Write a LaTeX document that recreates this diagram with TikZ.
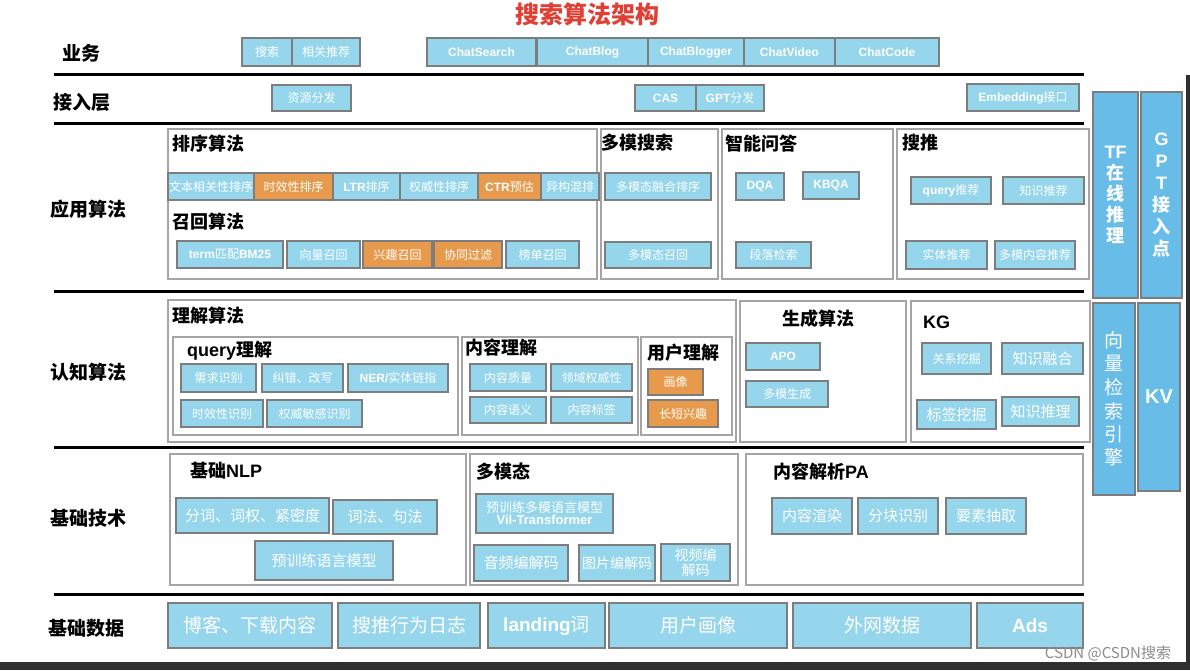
\documentclass[tikz,border=0pt]{standalone}
\usepackage{fontspec}
\setmainfont{Noto Sans CJK SC}
\newfontfamily\latfam{Liberation Sans}
\newcommand{\latb}[1]{{\latfam\bfseries #1}}
\definecolor{boxblue}{RGB}{150,214,236}
\definecolor{boxorange}{RGB}{232,154,76}
\definecolor{bordergray}{RGB}{125,125,125}
\definecolor{framegray}{RGB}{165,165,165}
\definecolor{colblue}{RGB}{104,189,232}
\definecolor{titlered}{RGB}{225,62,52}
\definecolor{stripdark}{RGB}{48,48,48}
\newcommand{\myfs}[1]{\fontsize{#1}{#1}\selectfont}
\newcommand{\bx}[7][]{%
  \pgfmathsetmacro\bxw{#5-#3}\pgfmathsetmacro\bxh{#6-#4}%
  \node[bxs,#1,minimum width=\bxw pt,minimum height=\bxh pt,anchor=north west] (#2) at (#3,#4) {#7};}
\tikzset{
  bxs/.style={draw=bordergray,line width=1.4pt,fill=boxblue,text=white,font=\myfs{12},inner sep=0pt,outer sep=0pt,align=center},
  org/.style={fill=boxorange},
  frm/.style={draw=framegray,line width=1.5pt,fill=white},
  colbx/.style={fill=colblue,font=\bfseries\myfs{18},draw=bordergray},
  big/.style={font=\myfs{15}},
  huge/.style={font=\myfs{19}},
  lbl/.style={font=\bfseries\myfs{19},text=black,anchor=west,inner sep=0pt},
  ttl/.style={font=\bfseries\myfs{18},text=black,anchor=west,inner sep=0pt},
  sep/.style={line width=3pt,black}
}
\begin{document}
\begin{tikzpicture}[x=1pt,y=-1pt]
\useasboundingbox (0,0) rectangle (1190,670);
\fill[white] (0,0) rectangle (1190,670);
% title
\node[font=\bfseries\myfs{24},text=titlered,inner sep=0pt] (title) at (587,14) {搜索算法架构};
% row labels
\node[lbl] (L1) at (62,53) {业务};
\node[lbl] (L2) at (53,102) {接入层};
\node[lbl] (L3) at (50,209) {应用算法};
\node[lbl] (L4) at (50,372) {认知算法};
\node[lbl] (L5) at (50,518) {基础技术};
\node[lbl] (L6) at (48,628) {基础数据};
% separators
\foreach \yy in {74,123,291,447,594} \draw[sep] (54,\yy) -- (1084,\yy);
% row 1
\bx{s1}{242}{38}{292}{66}{搜索}
\bx{s2}{292}{38}{360}{66}{相关推荐}
\bx{s3}{427}{38}{536}{66}{\latb{ChatSearch}}
\bx{s4}{537}{38}{648}{66}{\latb{ChatBlog}}
\bx{s5}{648}{38}{744}{66}{\latb{ChatBlogger}}
\bx{s6}{744}{38}{835}{66}{\latb{ChatVideo}}
\bx{s7}{835}{38}{939}{66}{\latb{ChatCode}}
% row 2
\bx{a1}{272}{85}{351}{111}{资源分发}
\bx{a2}{635}{85}{696}{111}{\latb{CAS}}
\bx{a3}{696}{85}{764}{111}{\latb{GPT}分发}
\bx{a4}{967}{84}{1079}{111}{\latb{Embedding}接口}
% application frames
\bx[frm]{fA}{168}{129}{597}{279}{}
\bx[frm]{fB}{601}{129}{718}{279}{}
\bx[frm]{fC}{722}{129}{893}{279}{}
\bx[frm]{fD}{897}{129}{1089}{279}{}
\node[ttl] (tA) at (172,144) {排序算法};
\node[ttl] (tA2) at (172,222) {召回算法};
\node[ttl] (tB) at (601,143) {多模搜索};
\node[ttl] (tC) at (725,144) {智能问答};
\node[ttl] (tD) at (902,143) {搜推};
\bx{r1}{168}{173}{254}{200}{文本相关性排序}
\bx[org]{r2}{254}{173}{333}{200}{时效性排序}
\bx{r3}{333}{173}{400}{200}{\latb{LTR}排序}
\bx{r4}{400}{173}{478}{200}{权威性排序}
\bx[org]{r5}{478}{173}{541}{200}{\latb{CTR}预估}
\bx{r6}{541}{173}{599}{200}{异构混排}
\bx{c1}{177}{241}{283}{268}{\latb{term}匹配\latb{BM25}}
\bx{c2}{287}{241}{360}{268}{向量召回}
\bx[org]{c3}{363}{241}{432}{268}{兴趣召回}
\bx[org]{c4}{434}{241}{502}{268}{协同过滤}
\bx{c5}{506}{241}{579}{268}{榜单召回}
\bx{m1}{605}{173}{711}{200}{多模态融合排序}
\bx{m2}{605}{242}{711}{268}{多模态召回}
\bx{q1}{736}{173}{784}{200}{\latb{DQA}}
\bx{q2}{803}{172}{859}{199}{\latb{KBQA}}
\bx{q3}{736}{242}{811}{268}{段落检索}
\bx{t1}{911}{177}{991}{204}{\latb{query}推荐}
\bx{t2}{1003}{177}{1084}{204}{知识推荐}
\bx{t3}{906}{241}{987}{269}{实体推荐}
\bx{t4}{995}{241}{1075}{269}{多模内容推荐}
% cognitive frames
\bx[frm]{gA}{168}{300}{736}{442}{}
\bx[frm]{gA1}{173}{337}{458}{435}{}
\bx[frm]{gA2}{462}{337}{638}{435}{}
\bx[frm]{gA3}{641}{337}{732}{435}{}
\bx[frm]{gB}{740}{301}{906}{442}{}
\bx[frm]{gC}{911}{301}{1090}{442}{}
\node[ttl] (tgA) at (172,316) {理解算法};
\node[ttl] (tgA1) at (187,351) {\latb{query}理解};
\node[ttl] (tgA2) at (465,348) {内容理解};
\node[ttl] (tgA3) at (647,353) {用户理解};
\node[ttl,anchor=center] (tgB) at (818,319) {生成算法};
\node[ttl] (tgC) at (923,322) {\latb{KG}};
\bx{u1}{181}{364}{256}{392}{需求识别}
\bx{u2}{262}{364}{343}{392}{纠错、改写}
\bx{u3}{348}{364}{448}{392}{\latb{NER/}实体链指}
\bx{u4}{181}{400}{263}{427}{时效性识别}
\bx{u5}{267}{400}{362}{427}{权威敏感识别}
\bx{v1}{470}{364}{546}{391}{内容质量}
\bx{v2}{551}{364}{632}{391}{领域权威性}
\bx{v3}{470}{397}{546}{423}{内容语义}
\bx{v4}{551}{397}{632}{423}{内容标签}
\bx[org]{w1}{648}{369}{703}{395}{画像}
\bx[org]{w2}{648}{400}{718}{427}{长短兴趣}
\bx{x1}{746}{343}{820}{370}{\latb{APO}}
\bx{x2}{746}{381}{828}{407}{多模生成}
\bx{k1}{922}{343}{991}{374}{关系挖掘}
\bx[big]{k2}{1002}{343}{1083}{374}{知识融合}
\bx[big]{k3}{917}{400}{996}{429}{标签挖掘}
\bx[big]{k4}{1002}{397}{1079}{426}{知识推理}
% foundation tech frames
\bx[frm]{hA}{170}{454}{466}{585}{}
\bx[frm]{hB}{470}{454}{738}{585}{}
\bx[frm]{hC}{746}{454}{1083}{585}{}
\node[ttl] (thA) at (190,471) {基础\latb{NLP}};
\node[ttl] (thB) at (476,472) {多模态};
\node[ttl] (thC) at (773,472) {内容解析\latb{PA}};
\bx[big]{n1}{176}{498}{329}{533}{分词、词权、紧密度}
\bx[big]{n2}{333}{500}{437}{534}{词法、句法}
\bx[big]{n3}{255}{541}{393}{580}{预训练语言模型}
\bx[font=\myfs{13}]{p1}{476}{494}{613}{533}{预训练多模语言模型\\[-1pt]\latb{Vil-Transformer}}
\bx[big]{p2}{474}{545}{568}{581}{音频编解码}
\bx[font=\myfs{14}]{p3}{579}{545}{655}{581}{图片编解码}
\bx[font=\myfs{14}]{p4}{661}{544}{730}{581}{视频编\\[1pt]解码}
\bx[big]{e1}{772}{498}{852}{534}{内容渲染}
\bx[big]{e2}{858}{498}{938}{534}{分块识别}
\bx[big]{e3}{946}{498}{1026}{534}{要素抽取}
% data row
\bx[huge]{d1}{168}{603}{332}{648}{博客、下载内容}
\bx[huge]{d2}{338}{603}{480}{648}{搜推行为日志}
\bx[huge]{d3}{488}{603}{605}{648}{\latb{landing}词}
\bx[huge]{d4}{609}{603}{787}{648}{用户画像}
\bx[huge]{d5}{793}{603}{971}{648}{外网数据}
\bx[huge]{d6}{977}{603}{1083}{648}{\latb{Ads}}
% right columns
\bx[colbx,font=\bfseries\fontsize{18}{21}\selectfont]{z1}{1093}{92}{1138}{298}{\latb{TF}\\在\\线\\推\\理}
\bx[colbx,font=\bfseries\fontsize{18}{22}\selectfont]{z2}{1141}{92}{1182}{298}{\latb{G}\\\latb{P}\\\latb{T}\\接\\入\\点}
\bx[colbx,font=\fontsize{19}{23.5}\selectfont]{z3}{1093}{303}{1135}{495}{向\\量\\检\\索\\引\\擎}
\bx[colbx,font=\bfseries\myfs{20}]{z4}{1138}{303}{1180}{491}{\latb{KV}}
% screenshot edges and watermark
\fill[stripdark] (0,662) rectangle (1190,670);
\fill[stripdark] (1186,75) rectangle (1190,670);
\node[font=\myfs{15},text=gray!90,inner sep=0pt] (wm) at (1108,653) {CSDN @CSDN搜索};
\end{tikzpicture}
\end{document}
